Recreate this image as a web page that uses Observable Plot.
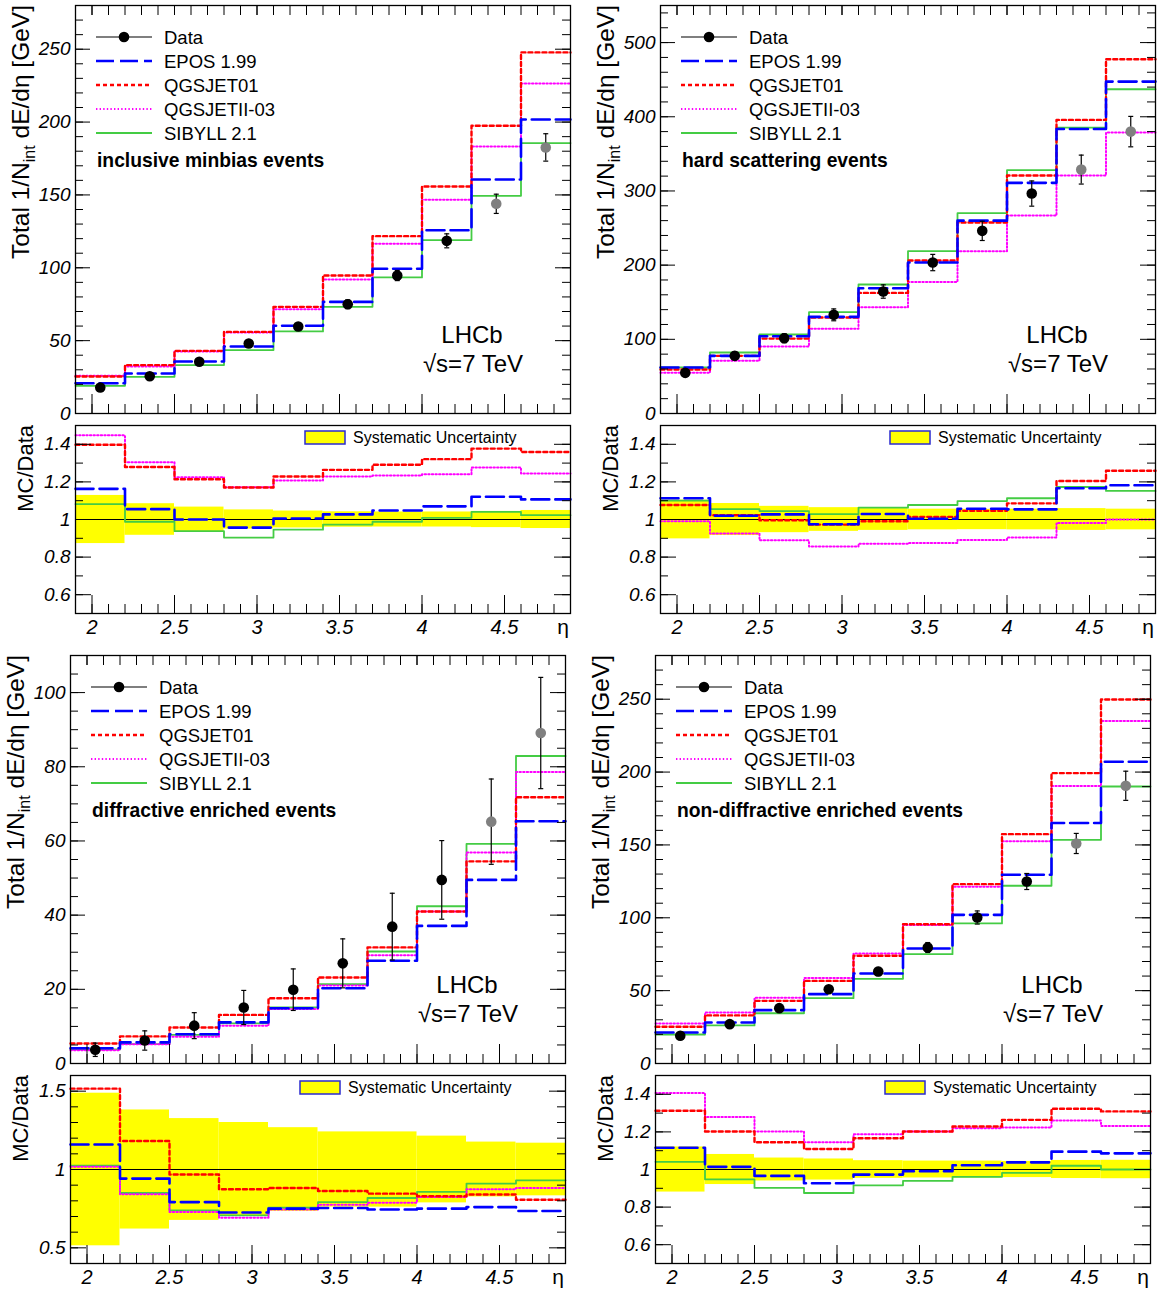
<!DOCTYPE html>
<html><head><meta charset="utf-8">
<script src="https://cdn.jsdelivr.net/npm/d3@7"></script>
<script src="https://cdn.jsdelivr.net/npm/@observablehq/plot@0.6"></script>
<style>
body{margin:0;background:#fff;}
#root{position:relative;width:1167px;height:1293px;overflow:hidden;background:#fff;}
.pl{position:absolute;}
#overlay{position:absolute;left:0;top:0;pointer-events:none;}
</style></head><body><div id="root"></div>
<script>
// ---------- data ----------
const etaEdges = [1.9, 2.2, 2.5, 2.8, 3.1, 3.4, 3.7, 4.0, 4.3, 4.6, 4.9];
const etaCenters = [2.05, 2.35, 2.65, 2.95, 3.25, 3.55, 3.85, 4.15, 4.45, 4.75];
const greyBins = [8, 9];
const seriesNames = ["Data", "EPOS 1.99", "QGSJET01", "QGSJETII-03", "SIBYLL 2.1"];
const panelTitles = ["inclusive minbias events", "hard scattering events", "diffractive enriched events", "non-diffractive enriched events"];
const xMajorTicks = [2, 2.5, 3, 3.5, 4, 4.5];

// inclusive minbias
const data1 = [17.8, 25.6, 35.5, 48.0, 59.7, 75.0, 94.7, 118.5, 143.9, 182.6];
const err1 = [1.0, 1.2, 1.5, 2.0, 2.5, 3.0, 3.5, 4.8, 6.6, 9.4];
const epos1 = [20.8, 27.5, 35.7, 46.0, 60.2, 76.6, 99.3, 125.8, 160.6, 201.8];
const qgs01_1 = [25.4, 33.2, 43.0, 56.0, 73.2, 94.7, 121.7, 155.8, 197.5, 247.8];
const qgsII_1 = [25.9, 32.3, 42.6, 55.6, 71.6, 92.0, 116.5, 146.7, 183.3, 226.5];
const sib1 = [19.0, 25.2, 33.2, 43.5, 56.3, 73.2, 93.4, 119.0, 149.4, 185.6];
const rEpos1 = [1.163, 1.055, 1.0, 0.957, 1.005, 1.027, 1.048, 1.07, 1.121, 1.107];
const rQgs01_1 = [1.398, 1.279, 1.214, 1.17, 1.229, 1.264, 1.291, 1.321, 1.377, 1.359];
const rQgsII_1 = [1.448, 1.305, 1.225, 1.172, 1.207, 1.229, 1.234, 1.241, 1.277, 1.245];
const rSib1 = [1.082, 0.988, 0.938, 0.904, 0.946, 0.973, 0.988, 1.009, 1.041, 1.023];
const sys1 = [0.128, 0.084, 0.066, 0.051, 0.045, 0.041, 0.04, 0.04, 0.043, 0.048];

// hard scattering
const data2 = [54.8, 77.7, 101.5, 133.0, 164.4, 203.5, 246.2, 296.5, 328.8, 380.0];
const err2 = [4, 5, 6, 8, 9, 11, 13, 17, 19.5, 20.5];
const epos2 = [62.0, 77.7, 104.2, 130.3, 168.9, 203.5, 260.0, 310.9, 383.6, 447.4];
const qgs01_2 = [59.3, 77.7, 101.0, 129.4, 162.6, 206.2, 257.4, 320.8, 395.8, 477.5];
const qgsII_2 = [54.8, 71.0, 90.3, 114.1, 143.3, 177.4, 218.8, 266.8, 320.8, 378.7];
const sib2 = [62.0, 82.2, 106.5, 136.6, 173.9, 218.8, 270.0, 328.0, 385.4, 437.1];
const rEpos2 = [1.113, 1.02, 1.027, 0.975, 1.029, 1.004, 1.057, 1.054, 1.166, 1.182];
const rQgs01_2 = [1.077, 1.023, 0.996, 0.973, 0.991, 1.014, 1.046, 1.086, 1.205, 1.259];
const rQgsII_2 = [0.991, 0.925, 0.889, 0.857, 0.871, 0.875, 0.891, 0.904, 0.982, 1.0];
const rSib2 = [1.1, 1.055, 1.045, 1.029, 1.063, 1.077, 1.098, 1.113, 1.173, 1.152];
const sys2 = [0.103, 0.085, 0.07, 0.063, 0.058, 0.055, 0.054, 0.055, 0.058, 0.055];

// diffractive enriched
const data3 = [3.7, 6.2, 10.2, 15.1, 19.9, 27.0, 36.9, 49.5, 65.2, 89.1];
const err3 = [1.8, 2.6, 3.5, 4.6, 5.6, 6.6, 9.0, 10.6, 11.5, 15.0];
const epos3 = [4.1, 5.7, 7.9, 11.1, 14.9, 20.3, 27.7, 37.1, 49.5, 65.3];
const qgs01_3 = [5.4, 7.3, 9.7, 13.1, 17.6, 23.2, 31.3, 41.0, 54.5, 71.8];
const qgsII_3 = [3.6, 5.2, 7.2, 10.2, 14.7, 21.0, 29.2, 41.0, 56.9, 78.6];
const sib3 = [3.8, 5.2, 7.7, 10.8, 15.1, 21.4, 30.2, 42.4, 59.2, 82.9];
const rEpos3 = [1.16, 0.942, 0.792, 0.726, 0.75, 0.754, 0.745, 0.75, 0.76, 0.735];
const rQgs01_3 = [1.516, 1.182, 0.968, 0.874, 0.882, 0.863, 0.846, 0.829, 0.84, 0.807];
const rQgsII_3 = [1.017, 0.842, 0.728, 0.692, 0.745, 0.775, 0.788, 0.824, 0.874, 0.882];
const rSib3 = [1.024, 0.85, 0.739, 0.707, 0.756, 0.792, 0.818, 0.857, 0.91, 0.931];
const sys3 = [0.487, 0.38, 0.325, 0.30, 0.267, 0.24, 0.24, 0.213, 0.175, 0.168];

// non-diffractive enriched
const data4 = [19.0, 27.0, 38.0, 51.0, 63.1, 79.6, 100.2, 124.9, 151.0, 190.6];
const err4 = [1.0, 1.3, 1.8, 2.3, 2.8, 3.4, 4.5, 5.5, 6.9, 10.0];
const epos4 = [21.3, 28.1, 36.6, 47.6, 61.8, 78.9, 102.0, 129.5, 165.0, 207.1];
const qgs01_4 = [25.2, 33.0, 43.0, 56.7, 73.9, 95.6, 123.1, 157.4, 199.3, 249.8];
const qgsII_4 = [27.5, 35.0, 45.1, 58.6, 75.5, 95.0, 121.3, 152.6, 190.4, 235.0];
const sib4 = [19.9, 26.1, 34.5, 44.8, 58.1, 75.0, 96.1, 122.0, 153.5, 190.1];
const rEpos4 = [1.116, 1.014, 0.966, 0.927, 0.973, 0.991, 1.023, 1.038, 1.095, 1.086];
const rQgs01_4 = [1.3125, 1.202, 1.145, 1.109, 1.166, 1.202, 1.229, 1.264, 1.323, 1.309];
const rQgsII_4 = [1.407, 1.279, 1.202, 1.145, 1.1875, 1.202, 1.22, 1.223, 1.26, 1.232];
const rSib4 = [1.041, 0.948, 0.902, 0.875, 0.916, 0.939, 0.961, 0.982, 1.02, 1.0];
const sys4 = [0.12, 0.08, 0.061, 0.056, 0.047, 0.045, 0.045, 0.043, 0.048, 0.049];

// ---------- styles / layout ----------
const FONT = '"Liberation Sans", Arial, Helvetica, sans-serif';
const styles = {
  "EPOS 1.99":   {stroke: "#0000ff", strokeWidth: 2.6, strokeDasharray: "18 6"},
  "QGSJET01":    {stroke: "#ff0000", strokeWidth: 2.4, strokeDasharray: "4 3"},
  "QGSJETII-03": {stroke: "#ff00ff", strokeWidth: 2.0, strokeDasharray: "1.4 2.2"},
  "SIBYLL 2.1":  {stroke: "#44cc44", strokeWidth: 1.8, strokeDasharray: null}
};
const FW = 495, FH = 408, RH = 188, ML = 70, MR = 12;

const panels = [
  {title: panelTitles[0], fx: 75, fy: 5, ymax: 280, yMajor: 50, yMinor: 10,
   data: data1, err: err1, mc: [epos1, qgs01_1, qgsII_1, sib1], ratio: [rEpos1, rQgs01_1, rQgsII_1, rSib1], sys: sys1,
   rmin: 0.5, rmax: 1.5, rMajor: [0.6, 0.8, 1, 1.2, 1.4]},
  {title: panelTitles[1], fx: 660, fy: 5, ymax: 550, yMajor: 100, yMinor: 20,
   data: data2, err: err2, mc: [epos2, qgs01_2, qgsII_2, sib2], ratio: [rEpos2, rQgs01_2, rQgsII_2, rSib2], sys: sys2,
   rmin: 0.5, rmax: 1.5, rMajor: [0.6, 0.8, 1, 1.2, 1.4]},
  {title: panelTitles[2], fx: 70, fy: 655, ymax: 110, yMajor: 20, yMinor: 5,
   data: data3, err: err3, mc: [epos3, qgs01_3, qgsII_3, sib3], ratio: [rEpos3, rQgs01_3, rQgsII_3, rSib3], sys: sys3,
   rmin: 0.4, rmax: 1.6, rMajor: [0.5, 1, 1.5]},
  {title: panelTitles[3], fx: 655, fy: 655, ymax: 280, yMajor: 50, yMinor: 10,
   data: data4, err: err4, mc: [epos4, qgs01_4, qgsII_4, sib4], ratio: [rEpos4, rQgs01_4, rQgsII_4, rSib4], sys: sys4,
   rmin: 0.5, rmax: 1.5, rMajor: [0.6, 0.8, 1, 1.2, 1.4]}
];

const xdom = [etaEdges[0], etaEdges[etaEdges.length - 1]];
const xMinorTicks = d3.range(19, 50).map(i => i / 10);
const stepPts = vals => etaEdges.map((e, i) => ({x: e, y: vals[Math.min(i, vals.length - 1)]}));

function tickMarks(ydom, H, yMaj, yMin, o) {
  const sx = (xdom[1] - xdom[0]) / FW, sy = (ydom[1] - ydom[0]) / H;
  const m = [];
  const hx = (vals, len, side) => Plot.ruleY(vals, {y: d => d,
    x1: side === "left" ? xdom[0] : xdom[1],
    x2: side === "left" ? xdom[0] + len * sx : xdom[1] - len * sx, stroke: "black", strokeWidth: 1});
  const vx = (vals, len, side) => Plot.ruleX(vals, {x: d => d,
    y1: side === "bottom" ? ydom[0] : ydom[1],
    y2: side === "bottom" ? ydom[0] + len * sy : ydom[1] - len * sy, stroke: "black", strokeWidth: 1});
  m.push(hx(yMin, o.yMinLen, "left"), hx(yMaj, o.yMajLen, "left"), hx(yMin, o.yMinLen, "right"), hx(yMaj, o.yMajLen, "right"));
  m.push(vx(xMinorTicks, o.xMinLen, "bottom"), vx(xMajorTicks, o.xMajLen, "bottom"));
  if (o.top) m.push(vx(xMinorTicks, o.topLen, "top"), vx(xMajorTicks, o.topLen, "top"));
  return m;
}

function mcLines(arrs) {
  const order = [3, 2, 1, 0];
  return order.map(k => {
    const s = styles[seriesNames[k + 1]];
    return Plot.line(stepPts(arrs[k]), {x: "x", y: "y", curve: "step-after",
      stroke: s.stroke, strokeWidth: s.strokeWidth, strokeDasharray: s.strokeDasharray});
  });
}

const root = document.getElementById("root");
const baseStyle = {fontFamily: FONT, fontSize: "19px", fontStyle: "italic", color: "black", background: "transparent", overflow: "visible"};

panels.forEach(p => {
  // main plot
  const rows = p.data.map((v, i) => ({x: etaCenters[i], v, e: p.err[i], grey: greyBins.includes(i)}));
  const cap = 2.5 * (xdom[1] - xdom[0]) / FW;
  const ydom = [0, p.ymax];
  const yMaj = d3.range(0, p.ymax + 1e-9, p.yMajor);
  const yMin = d3.range(0, p.ymax + 1e-9, p.yMinor);
  const main = Plot.plot({
    width: ML + FW + MR, height: 5 + FH + 4,
    marginLeft: ML, marginRight: MR, marginTop: 5, marginBottom: 4,
    x: {domain: xdom, axis: null},
    y: {domain: ydom},
    style: baseStyle,
    marks: [
      ...mcLines(p.mc),
      Plot.ruleX(rows, {x: "x", y1: d => d.v - d.e, y2: d => d.v + d.e, stroke: "black", strokeWidth: 1.2}),
      Plot.link(rows, {x1: d => d.x - cap, x2: d => d.x + cap, y1: d => d.v + d.e, y2: d => d.v + d.e, stroke: "black", strokeWidth: 1.2}),
      Plot.link(rows, {x1: d => d.x - cap, x2: d => d.x + cap, y1: d => d.v - d.e, y2: d => d.v - d.e, stroke: "black", strokeWidth: 1.2}),
      Plot.dot(rows.filter(d => !d.grey), {x: "x", y: "v", r: 5.3, fill: "black", stroke: "none"}),
      Plot.dot(rows.filter(d => d.grey), {x: "x", y: "v", r: 5.3, fill: "#808080", stroke: "none"}),
      ...tickMarks(ydom, FH, yMaj, yMin, {yMajLen: 15, yMinLen: 8, xMajLen: 19, xMinLen: 9, top: true, topLen: 10}),
      Plot.axisY({ticks: yMaj, tickSize: 0, tickPadding: 5, tickFormat: d => String(d), label: null}),
      Plot.frame({stroke: "black", strokeWidth: 1.3})
    ]
  });
  const d1 = document.createElement("div");
  d1.className = "pl";
  d1.style.left = (p.fx - ML) + "px"; d1.style.top = (p.fy - 5) + "px";
  d1.style.width = (ML + FW + MR) + "px";
  d1.appendChild(main);
  root.appendChild(d1);

  // ratio plot
  const rdom = [p.rmin, p.rmax];
  const bins = p.sys.map((h, i) => ({lo: etaEdges[i], hi: etaEdges[i + 1], h}));
  const rMin = d3.range(Math.round(p.rmin * 10), Math.round(p.rmax * 10) + 1).map(i => i / 10);
  const ratio = Plot.plot({
    width: ML + FW + MR, height: 5 + RH + 32,
    marginLeft: ML, marginRight: MR, marginTop: 5, marginBottom: 32,
    x: {domain: xdom},
    y: {domain: rdom},
    style: baseStyle,
    marks: [
      Plot.rect(bins, {x1: "lo", x2: "hi", y1: d => 1 - d.h, y2: d => 1 + d.h, fill: "#ffff00"}),
      Plot.ruleY([1], {stroke: "black", strokeWidth: 1.2}),
      ...mcLines(p.ratio),
      ...tickMarks(rdom, RH, p.rMajor, rMin, {yMajLen: 16, yMinLen: 8, xMajLen: 18, xMinLen: 9, top: false}),
      Plot.axisY({ticks: p.rMajor, tickSize: 0, tickPadding: 5, tickFormat: d => String(d), label: null}),
      Plot.axisX({ticks: xMajorTicks, tickSize: 0, tickPadding: 6, tickFormat: d => String(d), label: null, fontSize: 20}),
      Plot.frame({stroke: "black", strokeWidth: 1.3})
    ]
  });
  const d2 = document.createElement("div");
  d2.className = "pl";
  d2.style.left = (p.fx - ML) + "px"; d2.style.top = (p.fy + 420 - 5) + "px";
  d2.style.width = (ML + FW + MR) + "px";
  d2.appendChild(ratio);
  root.appendChild(d2);
});

// ---------- overlay: legends, titles, annotations ----------
const svg = d3.select("#root").append("svg").attr("id", "overlay")
  .attr("width", 1167).attr("height", 1293).style("font-family", FONT);

panels.forEach(p => {
  const g = svg.append("g").attr("transform", `translate(${p.fx},${p.fy})`);
  seriesNames.forEach((name, i) => {
    const y = 32 + i * 24;
    if (name === "Data") {
      g.append("line").attr("x1", 21).attr("x2", 77).attr("y1", y).attr("y2", y).attr("stroke", "black").attr("stroke-width", 1.2);
      g.append("circle").attr("cx", 49).attr("cy", y).attr("r", 5.3).attr("fill", "black");
    } else {
      const s = styles[name];
      g.append("line").attr("x1", 21).attr("x2", 77).attr("y1", y).attr("y2", y)
        .attr("stroke", s.stroke).attr("stroke-width", s.strokeWidth)
        .attr("stroke-dasharray", s.strokeDasharray);
    }
    g.append("text").attr("x", 89).attr("y", y + 6.5).attr("font-size", 18.5).text(name);
  });
  g.append("text").attr("x", 22).attr("y", 162).attr("font-size", 19.3).attr("font-weight", "bold").text(p.title);
  g.append("text").attr("x", 397).attr("y", 338).attr("font-size", 24).attr("text-anchor", "middle").text("LHCb");
  g.append("text").attr("x", 398).attr("y", 367).attr("font-size", 24).attr("text-anchor", "middle").text("\u221As=7 TeV");
  const t = g.append("text").attr("transform", "translate(-46,0) rotate(-90)").attr("text-anchor", "end").attr("font-size", 24.5);
  t.append("tspan").text("Total 1/N");
  t.append("tspan").attr("font-size", 16).attr("dy", 6).text("int");
  t.append("tspan").attr("dy", -6).text(" dE/d\u03B7 [GeV]");

  const r = svg.append("g").attr("transform", `translate(${p.fx},${p.fy + 420})`);
  r.append("text").attr("transform", "translate(-42,0) rotate(-90)").attr("text-anchor", "end").attr("font-size", 22).text("MC/Data");
  r.append("rect").attr("x", 230).attr("y", 6).attr("width", 40).attr("height", 13)
    .attr("fill", "#ffff00").attr("stroke", "#2a2ad0").attr("stroke-width", 1.5);
  r.append("text").attr("x", 278).attr("y", 17.5).attr("font-size", 16).text("Systematic Uncertainty");
  r.append("text").attr("x", 488).attr("y", RH + 21).attr("font-size", 21).attr("text-anchor", "middle").text("\u03B7");
});
</script>
</body></html>
